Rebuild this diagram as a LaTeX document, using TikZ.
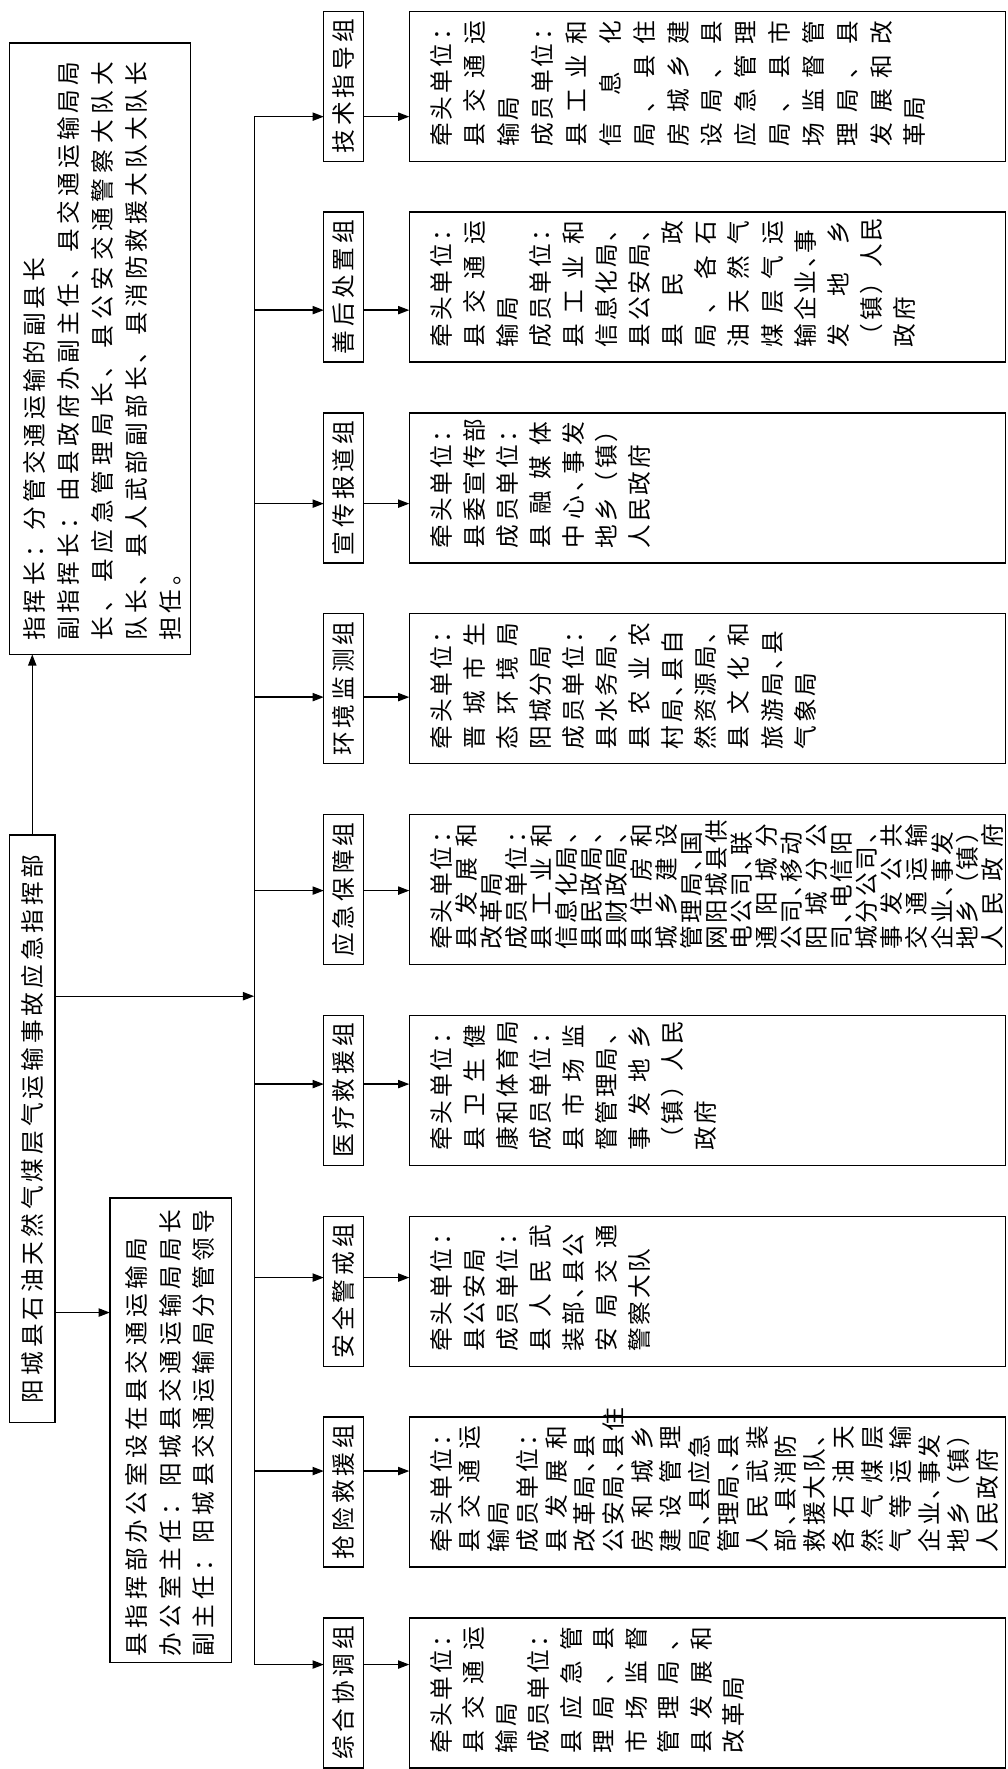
\documentclass[tikz,border=0pt]{standalone}
\usepackage{fontspec}
\usepackage{graphicx}
\usetikzlibrary{arrows.meta}
\newfontfamily\cjk{Noto Sans CJK SC}
\makeatletter
\newdimen\lw
\newdimen\trk
\trk=2.625pt
\def\cstrut{\vrule height .88em depth .12em width 0pt\relax}
\def\spr@#1#2\@nil{#1\ifx\relax#2\relax\else\spgap\spr@#2\@nil\fi}
\newcommand\J[1]{\hbox to\lw{\cstrut\let\spgap\hfil\spr@#1\@nil}}
\newcommand\N[1]{\hbox to\lw{\cstrut\def\spgap{\kern\trk}\spr@#1\@nil\hfil}}
\newcommand\T[1]{\hbox{\cstrut\def\spgap{\kern\trk}\spr@#1\@nil}}
\makeatother
\newcommand\dn{、\kern-.5em}
\newcommand\colblock[3]{\rotatebox{90}{\vbox{\lw=#2\baselineskip=#1\lineskiplimit=-\maxdimen\lineskip=0pt\relax#3}}}
\begin{document}
\begin{tikzpicture}[x=0.75pt,y=-0.75pt,
  every node/.style={font=\cjk\fontsize{15.75pt}{19pt}\selectfont, inner sep=0pt, outer sep=0pt},
  frame/.style={draw, line width=0.9pt},
  arr/.style={line width=0.9pt, -{Triangle[length=7.5pt,width=5.5pt]}},
  ln/.style={line width=0.9pt}]
\useasboundingbox (0,0) rectangle (893,1568);
\fill[white] (0,0) rectangle (893,1568);

% commander box
\node[frame, minimum width=120.375pt, minimum height=406.5pt] (cmd) at (88.75,309) {};
\node[anchor=south west] (cmdtxt) at (20.5,568) {\colblock{22.5pt}{385pt}{%
\N{指挥长：分管交通运输的副县长}%
\J{副指挥长：由县政府办副主任、县交通运输局局}%
\J{长、县应急管理局长、县公安交通警察大队大}%
\J{队长、县人武部副部长、县消防救援大队大队长}%
\N{担任。}}};

% root
\node[frame, minimum width=30.15pt, minimum height=390.75pt] (root) at (28.6,1000.5)
  {\rotatebox{90}{\T{阳城县石油天然气煤层气运输事故应急指挥部}}};

% office
\node[frame, minimum width=80.85pt, minimum height=308.625pt] (office) at (151.3,1267.75) {};
\node[anchor=south west] (offtxt) at (110.5,1468) {\trk=3pt\colblock{22.275pt}{300pt}{%
\N{县指挥部办公室设在县交通运输局}%
\N{办公室主任：阳城县交通运输局局长}%
\N{副主任：阳城县交通运输局分管领导}}};

% group labels and detail boxes
\foreach \n [count=\i from 0] in {技术指导组,善后处置组,宣传报道组,环境监测组,应急保障组,医疗救援组,安全警戒组,抢险救援组,综合协调组}{
  \node[frame, minimum width=26.25pt, minimum height=99.75pt] (lab\i) at (304.5,{76.5+178*\i})
    {\rotatebox{90}{\expandafter\T\expandafter{\n}}};
  \node[frame, minimum width=396.525pt, minimum height=99.75pt] (det\i) at (627.15,{76.5+178*\i}) {};
}

% detail texts
\node[anchor=south west] (txt0) at (380.5,130) {\trk=1.875pt\colblock{22.5pt}{84pt}{%
\N{牵头单位：}\J{县交通运}\N{输局}\N{成员单位：}\J{县工业和}\J{信息化}\J{局、县住}\J{房城乡建}%
\J{设局、县}\J{应急管理}\J{局、县市}\J{场监督管}\J{理局、县}\J{发展和改}\N{革局}}};

\node[anchor=south west] (txt1) at (380.5,308) {\trk=1.875pt\colblock{22pt}{84pt}{%
\N{牵头单位：}\J{县交通运}\N{输局}\N{成员单位：}\J{县工业和}\N{信息化局、}\N{县公安局、}\J{县民政}%
\J{局、各石}\J{油天然气}\J{煤层气运}\N{输企业\dn 事}\J{发地乡}\N{（镇）人民}\N{政府}}};

\node[anchor=south west] (txt2) at (380.5,486) {\trk=1.875pt\colblock{22pt}{84pt}{%
\N{牵头单位：}\N{县委宣传部}\N{成员单位：}\J{县融媒体}\J{中心\dn 事发}\N{地乡（镇）}\N{人民政府}}};

\node[anchor=south west] (txt3) at (380.5,664) {\trk=1.875pt\colblock{22pt}{84pt}{%
\N{牵头单位：}\J{晋城市生}\J{态环境局}\N{阳城分局}\N{成员单位：}\N{县水务局、}\J{县农业农}%
\N{村局\dn 县自}\N{然资源局、}\J{县文化和}\N{旅游局\dn 县}\N{气象局}}};

\node[anchor=south west] (txt4) at (380.5,842) {\trk=1.875pt\colblock{16.65pt}{84pt}{%
\N{牵头单位：}\J{县发展和}\N{改革局}\N{成员单位：}\J{县工业和}\N{信息化局、}\N{县民政局、}%
\N{县财政局、}\J{县住房和}\J{城乡建设}\N{管理局\dn 国}\N{网阳城县供}\N{电公司\dn 联}\J{通阳城分}%
\N{公司\dn 移动}\J{阳城分公}\N{司\dn 电信阳}\N{城分公司、}\J{事发公共}\J{交通运输}\N{企业\dn 事发}%
\N{地乡（镇）}\J{人民政府}}};

\node[anchor=south west] (txt5) at (380.5,1020) {\trk=1.875pt\colblock{22pt}{84pt}{%
\N{牵头单位：}\J{县卫生健}\N{康和体育局}\N{成员单位：}\J{县市场监}\N{督管理局、}\J{事发地乡}%
\N{（镇）人民}\N{政府}}};

\node[anchor=south west] (txt6) at (380.5,1198) {\trk=1.875pt\colblock{22pt}{84pt}{%
\N{牵头单位：}\N{县公安局}\N{成员单位：}\J{县人民武}\N{装部\dn 县公}\J{安局交通}\N{警察大队}}};

\node[anchor=south west] (txt7) at (380.5,1376) {\trk=1.875pt\colblock{19.1pt}{84pt}{%
\N{牵头单位：}\J{县交通运}\N{输局}\N{成员单位：}\J{县发展和}\N{改革局\dn 县}\N{公安局\dn 县住}%
\J{房和城乡}\J{建设管理}\N{局\dn 县应急}\N{管理局\dn 县}\J{人民武装}\N{部\dn 县消防}\N{救援大队、}%
\J{各石油天}\J{然气煤层}\J{气等运输}\N{企业\dn 事发}\N{地乡（镇）}\N{人民政府}}};

\node[anchor=south west] (txt8) at (380.5,1554) {\trk=1.875pt\colblock{21.6pt}{84pt}{%
\N{牵头单位：}\J{县交通运}\N{输局}\N{成员单位：}\J{县应急管}\J{理局、县}\J{市场监督}\J{管理局、}%
\J{县发展和}\N{改革局}}};

% connectors
\draw[arr] (root.north) -- (root.north |- cmd.south);
\coordinate (oa) at (97.4,1163.4);
\draw[arr] (root.east |- oa) -- (office.west |- oa);
\coordinate (bj) at (225.3,883);
\draw[arr] (root.east |- bj) -- (bj);
\coordinate (bus0) at (225.3,103.4);
\coordinate (bus8) at (225.3,1475.4);
\draw[ln] (bus0) -- (bus8);
\foreach \i in {0,...,8}{
  \coordinate (b\i) at (225.3,{103.4+171.5*\i});
  \draw[arr] (b\i) -- (lab\i.west |- b\i);
  \draw[arr] (lab\i.east |- b\i) -- (det\i.west |- b\i);
}
\end{tikzpicture}
\end{document}
